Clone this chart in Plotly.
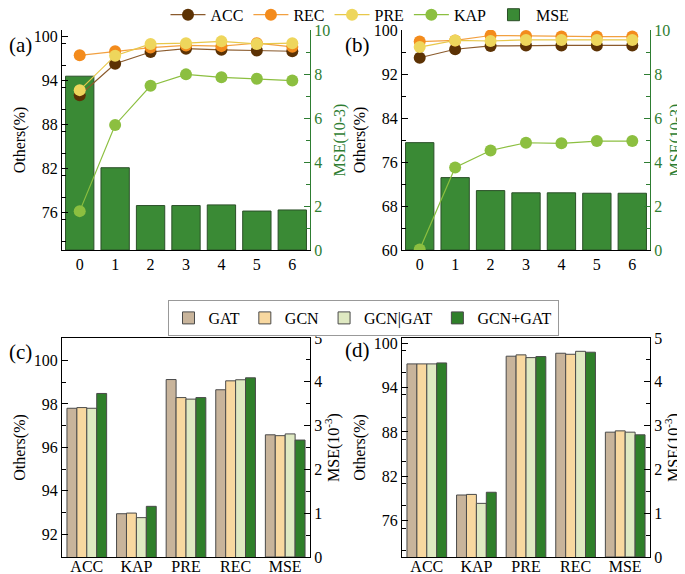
import plotly.graph_objects as go

# ---------------- data ----------------
steps = [0, 1, 2, 3, 4, 5, 6]

a_acc = [92.0, 96.3, 97.9, 98.35, 98.2, 98.1, 98.0]
a_rec = [97.45, 98.0, 98.5, 98.8, 98.7, 99.1, 98.6]
a_pre = [92.7, 97.4, 99.0, 99.1, 99.35, 99.0, 99.1]
a_kap = [76.2, 87.95, 93.3, 94.85, 94.45, 94.25, 94.0]
a_mse = [7.9, 3.74, 2.02, 2.02, 2.05, 1.77, 1.82]

b_acc = [94.95, 96.5, 97.1, 97.2, 97.2, 97.2, 97.2]
b_rec = [97.9, 98.1, 99.0, 98.9, 98.8, 98.8, 98.8]
b_pre = [96.9, 98.1, 98.0, 98.2, 98.2, 98.2, 98.2]
b_kap = [60.1, 75.0, 78.1, 79.5, 79.4, 79.8, 79.8]
b_mse = [4.88, 3.29, 2.70, 2.60, 2.60, 2.58, 2.58]

metrics = ["ACC", "KAP", "PRE", "REC"]
mse_cat = ["MSE"]
models = ["GAT", "GCN", "GCN|GAT", "GCN+GAT"]

c_vals = {
    "GAT":     [97.80, 92.95, 99.12, 98.65],
    "GCN":     [97.83, 92.98, 98.29, 99.06],
    "GCN|GAT": [97.80, 92.77, 98.22, 99.11],
    "GCN+GAT": [98.48, 93.29, 98.29, 99.20],
}
c_mse = {"GAT": 2.79, "GCN": 2.77, "GCN|GAT": 2.81, "GCN+GAT": 2.67}

d_vals = {
    "GAT":     [97.20, 79.48, 98.24, 98.64],
    "GCN":     [97.20, 79.56, 98.42, 98.50],
    "GCN|GAT": [97.20, 78.35, 98.05, 98.90],
    "GCN+GAT": [97.33, 79.85, 98.19, 98.78],
}
d_mse = {"GAT": 2.85, "GCN": 2.88, "GCN|GAT": 2.85, "GCN+GAT": 2.79}

# ---------------- styles ----------------
FONT = "Liberation Serif"
GREEN_AX = "#2e7d32"
line_styles = {
    "ACC": dict(marker="#5c3204", line="#8a5a2c"),
    "REC": dict(marker="#f38b1c", line="#f2a040"),
    "PRE": dict(marker="#eed65c", line="#e8c84a"),
    "KAP": dict(marker="#8cbf40", line="#8cbf40"),
}
model_colors = {"GAT": "#c8b49b", "GCN": "#f8d8a0", "GCN|GAT": "#dfe9c2", "GCN+GAT": "#2f7f2a"}
MSE_BAR = "#3a8a35"

fig = go.Figure()

def line_panel(xa, ya_left, ya_right, acc, rec, pre, kap, mse, show):
    fig.add_trace(go.Bar(x=steps, y=mse, name="MSE", xaxis=xa, yaxis=ya_right,
                         marker=dict(color=MSE_BAR, line=dict(color="#2b4f28", width=1)),
                         width=0.8, showlegend=show, legendrank=5))
    for i, (nm, vals) in enumerate([("ACC", acc), ("REC", rec), ("PRE", pre), ("KAP", kap)]):
        st = line_styles[nm]
        fig.add_trace(go.Scatter(x=steps, y=vals, name=nm, xaxis=xa, yaxis=ya_left,
                                 mode="lines+markers",
                                 line=dict(color=st["line"], width=1.2),
                                 marker=dict(color=st["marker"], size=12),
                                 showlegend=show, legendrank=i + 1))

line_panel("x", "y2", "y", a_acc, a_rec, a_pre, a_kap, a_mse, True)
line_panel("x2", "y4", "y3", b_acc, b_rec, b_pre, b_kap, b_mse, False)

def bar_panel(xa, ya_left, ya_right, vals, mse, show):
    for i, m in enumerate(models):
        off = -0.4 + 0.2 * i
        fig.add_trace(go.Bar(x=metrics, y=vals[m], name=m, xaxis=xa, yaxis=ya_left,
                             width=0.2, offset=off,
                             marker=dict(color=model_colors[m], line=dict(color="#4a4a4a", width=1)),
                             legend="legend2", showlegend=show))
        fig.add_trace(go.Bar(x=mse_cat, y=[mse[m]], name=m, xaxis=xa, yaxis=ya_right,
                             width=0.2, offset=off,
                             marker=dict(color=model_colors[m], line=dict(color="#4a4a4a", width=1)),
                             legend="legend2", showlegend=False))

bar_panel("x3", "y5", "y6", c_vals, c_mse, True)
bar_panel("x4", "y7", "y8", d_vals, d_mse, False)

tickfont = dict(family=FONT, size=16, color="black")
titlefont = dict(family=FONT, size=16, color="black")

# page shows the figure with an 8px body margin: figure is 677x566
W, H = 677, 566
xd_left = [54 / W, 302 / W]
xd_right = [394 / W, 642 / W]
yd_top = [1 - 242 / H, 1 - 22 / H]
yd_bot = [1 - 549 / H, 1 - 330 / H]

def xaxis(domain, anchor, cats=None, mirror=False, standoff=0):
    d = dict(domain=domain, anchor=anchor, showline=True, linecolor="black", linewidth=1,
             ticks="", tickfont=tickfont, showgrid=False, zeroline=False, mirror=mirror,
             automargin=False, ticklabelstandoff=standoff)
    if cats is None:
        d.update(range=[-0.5, 6.5], tickmode="array", tickvals=steps)
    else:
        d.update(type="category", categoryorder="array", categoryarray=cats, range=[-0.5, len(cats) - 0.5])
    return d

def yleft(domain, anchor, rng, tick0, dtick, overlay=None):
    d = dict(domain=domain, anchor=anchor, side="left", range=rng, tick0=tick0, dtick=dtick,
             showline=True, linecolor="black", linewidth=1, ticks="inside", ticklen=6,
             tickcolor="black", minor=dict(ticks="inside", ticklen=4, dtick=dtick / 2, tickcolor="black"),
             tickfont=tickfont, showgrid=False, zeroline=False, automargin=False,
             title=dict(text="Others(%)", font=titlefont, standoff=4))
    if overlay:
        d["overlaying"] = overlay
    return d

def yright(domain, anchor, rng, dtick, color, title, overlay=None):
    d = dict(domain=domain, anchor=anchor, side="right", range=rng, tick0=0, dtick=dtick,
             showline=True, linecolor=color, linewidth=1, ticks="inside", ticklen=6,
             tickcolor=color, minor=dict(ticks="inside", ticklen=4, dtick=dtick / 2, tickcolor=color),
             tickfont=dict(family=FONT, size=16, color=color), showgrid=False, zeroline=False,
             automargin=False,
             title=dict(text=title, font=dict(family=FONT, size=16, color=color), standoff=4))
    if overlay:
        d["overlaying"] = overlay
    return d

fig.update_layout(
    width=W, height=H,
    margin=dict(l=0, r=0, t=0, b=0, autoexpand=False),
    paper_bgcolor="white", plot_bgcolor="white",
    font=dict(family=FONT, size=16, color="black"),
    barmode="overlay",
    xaxis=xaxis(xd_left, "y"),
    xaxis2=xaxis(xd_right, "y3"),
    xaxis3=xaxis(xd_left, "y5", cats=metrics + mse_cat, mirror=True, standoff=-5),
    xaxis4=xaxis(xd_right, "y7", cats=metrics + mse_cat, mirror=True, standoff=-5),
    yaxis=yright(yd_top, "x", [0, 10], 2, GREEN_AX, "MSE(10-3)"),
    yaxis2=yleft(yd_top, "x", [70.9, 100.9], 76, 6, overlay="y"),
    yaxis3=yright(yd_top, "x2", [0, 10], 2, GREEN_AX, "MSE(10-3)"),
    yaxis4=yleft(yd_top, "x2", [60, 100], 60, 8, overlay="y3"),
    yaxis5=yleft(yd_bot, "x3", [90.96, 101.03], 92, 2),
    yaxis6=yright(yd_bot, "x3", [0, 5], 1, "black", "MSE(10<sup>-3</sup>)", overlay="y5"),
    yaxis7=yleft(yd_bot, "x4", [71.1, 100.7], 76, 6),
    yaxis8=yright(yd_bot, "x4", [0, 5], 1, "black", "MSE(10<sup>-3</sup>)", overlay="y7"),
    legend=dict(orientation="h", x=362 / W, xanchor="center", y=1.018, yanchor="top",
                font=dict(family=FONT, size=16), itemwidth=35, bgcolor="rgba(0,0,0,0)",
                traceorder="normal", tracegroupgap=0),
    legend2=dict(orientation="h", x=355 / W, xanchor="center", y=1 - 310 / H, yanchor="middle",
                 font=dict(family=FONT, size=16), bordercolor="#999999", borderwidth=1,
                 bgcolor="white"),
)

for txt, px, py in [("(a)", 12, 37), ("(b)", 349, 37), ("(c)", 12, 344), ("(d)", 349, 342)]:
    fig.add_annotation(text=txt, x=px / W, y=1 - py / H, xref="paper", yref="paper", showarrow=False,
                       font=dict(family=FONT, size=21, color="black"), xanchor="center", yanchor="middle")

fig.write_html("out.html")
